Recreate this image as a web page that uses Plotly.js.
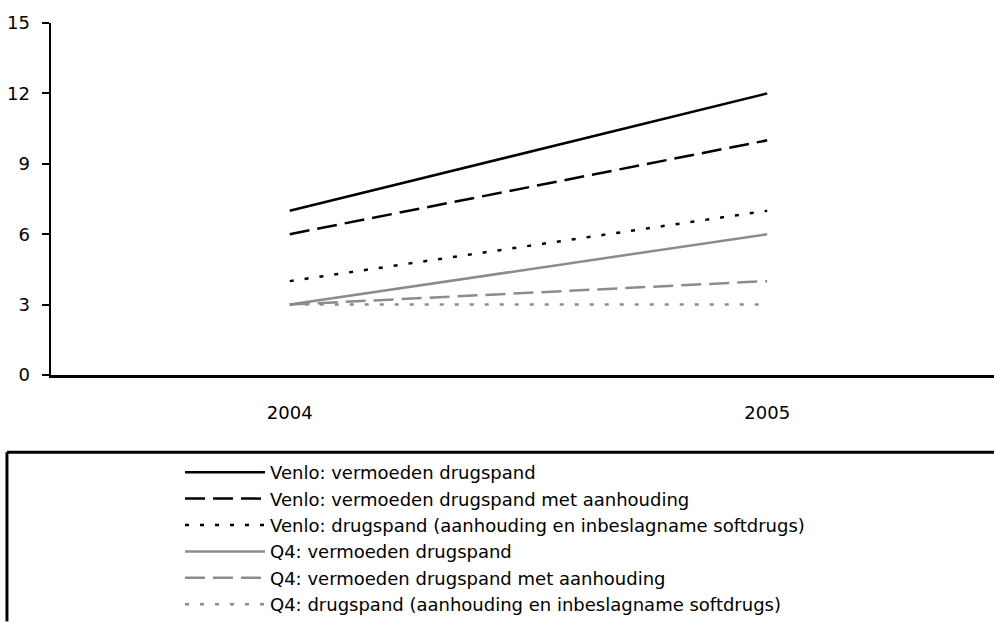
<!DOCTYPE html>
<html>
<head>
<meta charset="utf-8">
<script src="https://cdn.plot.ly/plotly-3.0.1.min.js"></script>
<style>html,body{margin:0;padding:0;background:#fff;}#chart{width:994px;height:623px;}</style>
</head>
<body>
<div id="chart"></div>
<script>
var years = ['2004', '2005'];
var seriesNames = [
  'Venlo: vermoeden drugspand',
  'Venlo: vermoeden drugspand met aanhouding',
  'Venlo: drugspand (aanhouding en inbeslagname softdrugs)',
  'Q4: vermoeden drugspand',
  'Q4: vermoeden drugspand met aanhouding',
  'Q4: drugspand (aanhouding en inbeslagname softdrugs)'
];
var venloVermoeden = [7, 12];
var venloMetAanhouding = [6, 10];
var venloDrugspand = [4, 7];
var q4Vermoeden = [3, 6];
var q4MetAanhouding = [3, 4];
var q4Drugspand = [3, 3];
var yTicks = [0, 3, 6, 9, 12, 15];

var values = [venloVermoeden, venloMetAanhouding, venloDrugspand, q4Vermoeden, q4MetAanhouding, q4Drugspand];
var colors = ['#000000', '#000000', '#000000', '#8c8c8c', '#8c8c8c', '#8c8c8c'];
var dashes = ['solid', '20px,8px', '4px,11px', 'solid', '20px,8px', '4px,11px'];
var widths = [2.5, 2.5, 2.5, 2.5, 2.5, 2.5];

var traces = values.map(function (v, i) {
  return {
    x: years, y: v, type: 'scatter', mode: 'lines', name: seriesNames[i],
    line: {color: colors[i], dash: dashes[i], width: widths[i]}
  };
});

var FONT = 'DejaVu Sans, sans-serif';
var layout = {
  width: 994, height: 623,
  margin: {l: 51, r: 0, t: 23, b: 240},
  paper_bgcolor: '#ffffff', plot_bgcolor: '#ffffff',
  font: {family: FONT, size: 18, color: '#000000'},
  showlegend: true,
  legend: {
    x: 0.1368, xanchor: 'left', y: -0.225, yanchor: 'top',
    orientation: 'v', itemwidth: 80, tracegroupgap: 0,
    font: {family: FONT, size: 18, color: '#000000'},
    bgcolor: 'rgba(0,0,0,0)', borderwidth: 0, itemclick: false
  },
  xaxis: {
    type: 'category', range: [-0.5, 1.475],
    showgrid: false, zeroline: false,
    showline: true, linecolor: '#000000', linewidth: 2.5,
    ticks: '', ticklabelstandoff: 20,
    tickfont: {family: FONT, size: 18, color: '#000000'},
    fixedrange: true
  },
  yaxis: {
    range: [0, 15], tickvals: yTicks,
    showgrid: false, zeroline: false,
    showline: true, linecolor: '#000000', linewidth: 2.5,
    ticks: 'outside', ticklen: 7, tickwidth: 2, tickcolor: '#000000',
    ticklabelstandoff: 8,
    tickfont: {family: FONT, size: 18, color: '#000000'},
    fixedrange: true
  },
  shapes: [
    {type: 'line', xref: 'paper', yref: 'paper', x0: -0.0467, x1: 1.0, y0: -0.2194, y1: -0.2194,
     line: {color: '#000000', width: 3}},
    {type: 'line', xref: 'paper', yref: 'paper', x0: -0.0467, x1: -0.0467, y0: -0.2194, y1: -0.7,
     line: {color: '#000000', width: 3}}
  ]
};

Plotly.newPlot('chart', traces, layout, {displayModeBar: false, staticPlot: true});
</script>
</body>
</html>
